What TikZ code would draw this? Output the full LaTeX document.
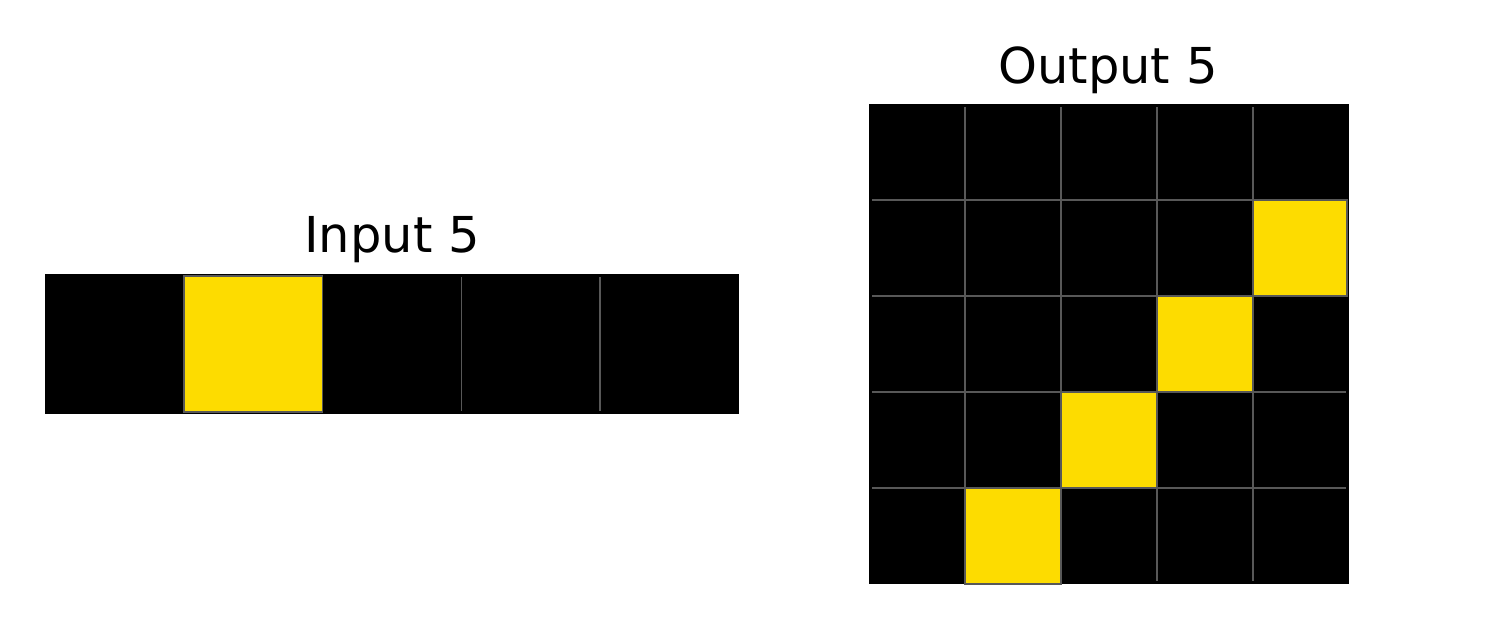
\documentclass[tikz,border=0pt]{standalone}
\usepackage{fontspec}
\setmainfont{DejaVu Sans}
\definecolor{cellyellow}{RGB}{253,220,0}
\definecolor{gridgray}{RGB}{88,88,88}

\begin{document}
\begin{tikzpicture}[
    x=1pt, y=-1pt,
    title/.style={anchor=base, inner sep=0pt, font=\fontsize{49.5}{60}\selectfont},
    board/.style={fill=black, draw=none},
    hotcell/.style={fill=cellyellow, draw=gridgray, line width=1.5pt},
    gridline/.style={draw=gridgray, line width=1.5pt}
]
\useasboundingbox (0,0) rectangle (1500,629);

% input row
\node[title] (intitle) at (392,252) {Input 5};
\fill[board] (45,274) rectangle (739,414);
\foreach \i in {2,3,4}
  \draw[gridline] ({45+138.8*\i},277) -- ({45+138.8*\i},411);
\draw[hotcell] ({45+138.8},276) rectangle ({45+2*138.8},412);

% output grid
\node[title] (outtitle) at (1108,83) {Output 5};
\fill[board] (869,104) rectangle (1349,584);
\foreach \i in {1,...,4} {
  \draw[gridline] ({869+96*\i},107) -- ({869+96*\i},581);
  \draw[gridline] (872,{104+96*\i}) -- (1346,{104+96*\i});
}
\foreach \r/\c in {1/4,2/3,3/2,4/1}
  \draw[hotcell] ({869+96*\c},{104+96*\r}) rectangle ({min(869+96*(\c+1),1347)},{104+96*(\r+1)});
\end{tikzpicture}
\end{document}
